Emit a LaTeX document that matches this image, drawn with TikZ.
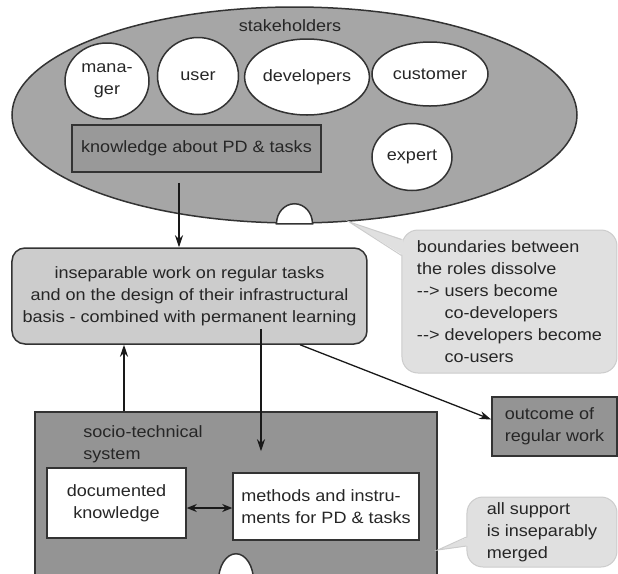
\documentclass[tikz,border=0pt]{standalone}
\usepackage{fontspec}
\setmainfont{Liberation Sans}[FakeStretch=1.1]
\usetikzlibrary{shapes.geometric, arrows.meta, calc}

\begin{document}
\begin{tikzpicture}[x=0.5pt, y=-0.5pt,
    font=\fontsize{8.2}{11}\selectfont,
    every node/.style={text=black!85},
    role/.style={ellipse, draw=black!80, fill=white, line width=0.75pt, inner sep=0pt, align=center},
    darkbox/.style={rectangle, draw=black!80, fill=black!42, line width=0.75pt, inner sep=0pt},
    whitebox/.style={rectangle, draw=black!80, fill=white, line width=0.75pt, inner sep=3pt},
    workbox/.style={rectangle, rounded corners=6.5pt, draw=black!80, fill=black!20, line width=0.75pt, align=center},
    note/.style={rectangle, rounded corners=8pt, draw=black!20, fill=black!12, line width=0.5pt, align=left, inner sep=0pt},
    dome/.style={draw=black!80, fill=white, line width=0.75pt},
    arrow/.style={-{Stealth[length=6pt, width=4pt]}, line width=0.65pt, draw=black!90},
    dblarrow/.style={{Stealth[length=5pt, width=4pt]}-{Stealth[length=5pt, width=4pt]}, line width=0.65pt, draw=black!90}
]
    \clip (0,0) rectangle (618,574);

    % Stakeholders
    \node[ellipse, draw=black!80, fill=black!35, line width=0.75pt, minimum width=282.5pt, minimum height=108pt] (stakeholders) at (294.5,115) {};
    \node (title) at (290,26) {stakeholders};
    \node[role, minimum width=42pt, minimum height=38pt] (manager) at (107,81) {mana-\\ger};
    \node[role, minimum width=40.5pt, minimum height=38.5pt] (user) at (198,76) {user};
    \node[role, minimum width=52pt, minimum height=38pt] (developers) at (307,77) {developers};
    \node[role, minimum width=58pt, minimum height=32pt] (customer) at (430,74) {customer};
    \node[role, minimum width=40pt, minimum height=33.5pt] (expert) at (412,157) {expert};
    \node[darkbox, fill=black!40, minimum width=124.5pt, minimum height=23.5pt] (knowledge) at (196.5,148.5) {knowledge about PD \& tasks};
    \draw[dome] ([xshift=-9pt]stakeholders.south) arc[start angle=180, end angle=0, x radius=9pt, y radius=10pt] -- cycle;

    % Work
    \node[workbox, minimum width=177.5pt, minimum height=48pt] (work) at (189.5,296) {inseparable work on regular tasks\\and on the design of their infrastructural\\basis - combined with permanent learning};
    \node[darkbox, minimum width=62.5pt, minimum height=29.5pt, align=left, inner xsep=3pt] (outcome) at (554.5,426.5) {outcome of\\regular work};

    % Socio-technical system
    \node[darkbox, minimum width=201pt, minimum height=84pt] (sociotech) at (236,496) {};
    \node[anchor=west, align=left, inner sep=0pt] (sociolabel) at (83,444) {socio-technical\\system};
    \node[whitebox, align=center, minimum width=69.5pt, minimum height=35pt] (documented) at (116.5,503) {documented\\knowledge};
    \node[whitebox, align=left, minimum width=93pt, minimum height=33.5pt] (methods) at (326,506.5) {methods and instru-\\ments for PD \& tasks};
    \draw[dome] ([xshift=-8.75pt]sociotech.south) arc[start angle=180, end angle=0, x radius=8.75pt, y radius=13.5pt] -- cycle;

    % Notes
    \node[note, minimum width=107.5pt, minimum height=71.5pt] (roles) at (509.5,301.5) {boundaries between\\the roles dissolve\\-{}-> users become\\\hphantom{-{}->}~co-developers\\-{}-> developers become\\\hphantom{-{}->}~co-users};
    \node[note, minimum width=75pt, minimum height=35pt] (support) at (542,532) {all support\\is inseparably\\merged};
    \coordinate (tip1) at (stakeholders.-63);
    \coordinate (tip2) at ($(sociotech.east)+(0,54)$);
    \fill[black!12] (tip1) -- ($(roles.north west)+(2,10)$) -- ($(roles.north west)+(2,26)$) -- cycle;
    \draw[black!20, line width=0.5pt] ($(roles.north west)+(0,10)$) -- (tip1) -- ($(roles.north west)+(0,26)$);
    \fill[black!12] (tip2) -- ($(support.west)+(2,5)$) -- ($(support.west)+(2,14)$) -- cycle;
    \draw[black!20, line width=0.5pt] ($(support.west)+(0,5)$) -- (tip2) -- ($(support.west)+(0,14)$);

    % Draw connections
    \draw[arrow] ($(knowledge.south)+(-17.5,10)$) -- ($(knowledge.south |- work.north)+(-17.5,0)$);
    \draw[arrow] ($(sociotech.north)+(-112,0)$) -- ($(sociotech.north |- work.south)+(-112,0)$);
    \draw[arrow] ($(work.south)+(71.5,-16)$) -- ($(work.south |- sociotech.north)+(71.5,40)$);
    \draw[arrow] ($(work.south)+(110.5,0)$) -- ($(outcome.west)+(0,-7)$);
    \draw[dblarrow] ($(documented.east)+(0,5)$) -- ($(documented.east -| methods.west)+(0,5)$);
\end{tikzpicture}
\end{document}
